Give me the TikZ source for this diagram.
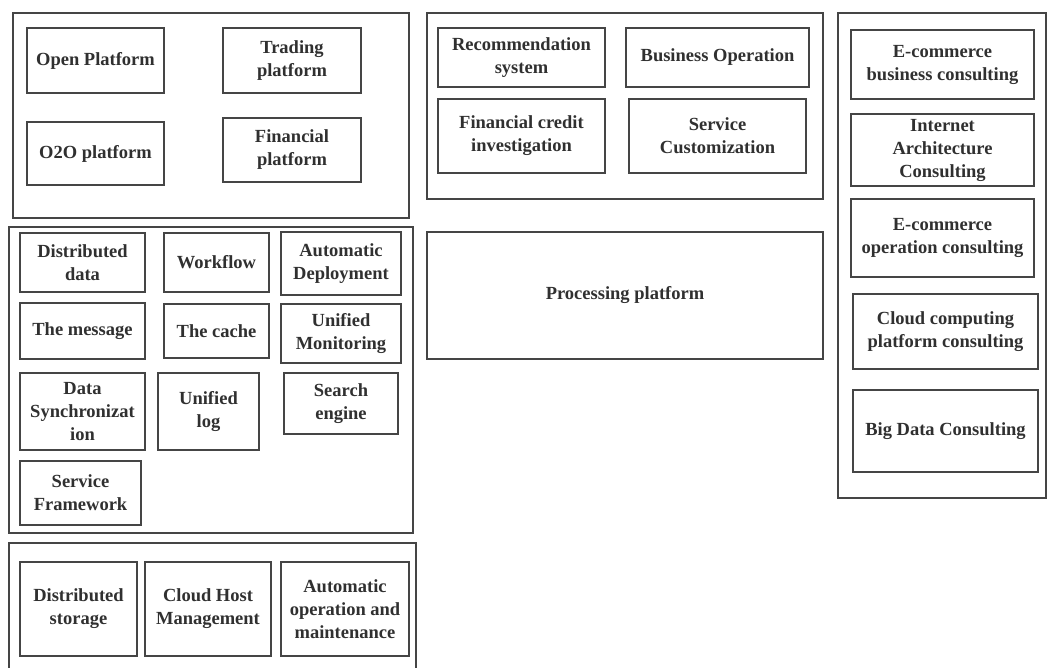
\documentclass[tikz,border=0pt]{standalone}
\usepackage{fontspec}
\setmainfont{Liberation Serif}
\definecolor{ln}{HTML}{454545}
\definecolor{tx}{HTML}{303030}
\newcommand\bx[6]{\node[bx,minimum width={(#4-#2)*1pt},minimum height={(#5-#3)*1pt}] (#1) at ({(#2+#4)/2},{(#3+#5)/2}) {#6};}
\begin{document}
\begin{tikzpicture}[x=1pt,y=-1pt,
  bx/.style={draw=ln,line width=1.3pt,rectangle,inner sep=0pt,align=center,text=tx,
    font=\fontsize{18.5}{23}\selectfont\bfseries}]
\useasboundingbox[fill=white] (0,0) rectangle (1048,668);
% group outlines
\bx{g1}{13}{13}{409}{218}{}
\bx{g2}{9}{227}{413}{533}{}
\bx{g3}{9}{543}{416}{680}{}
\bx{g4}{427}{13}{823}{199}{}
\bx{g5}{838}{13}{1046}{498}{}
% top-left group
\bx{op}{27}{28}{164}{93}{Open Platform}
\bx{tp}{223}{28}{361}{93}{Trading\\platform}
\bx{oo}{27}{122}{164}{185}{O2O platform}
\bx{fp}{223}{118}{361}{182}{Financial\\platform}
% middle-left group
\bx{dd}{20}{233}{145}{292}{Distributed\\data}
\bx{wf}{164}{233}{269}{292}{Workflow}
\bx{ad}{281}{232}{401}{295}{Automatic\\Deployment}
\bx{tm}{20}{303}{145}{359}{The message}
\bx{tc}{164}{304}{269}{358}{The cache}
\bx{um}{281}{304}{401}{363}{Unified\\Monitoring}
\bx{ds}{20}{373}{145}{450}{Data\\Synchronizat\\ion}
\bx{ul}{158}{373}{259}{450}{Unified\\log}
\bx{se}{284}{373}{398}{434}{Search\\engine}
\bx{sf}{20}{461}{141}{525}{Service\\Framework}
% bottom-left group
\bx{dst}{20}{562}{137}{656}{Distributed\\storage}
\bx{ch}{145}{562}{271}{656}{Cloud Host\\Management}
\bx{ao}{281}{562}{409}{656}{Automatic\\operation and\\maintenance}
% middle group
\bx{rs}{438}{28}{605}{87}{Recommendation\\system}
\bx{bo}{626}{28}{809}{87}{Business Operation}
\bx{fc}{438}{99}{605}{173}{Financial credit\\investigation}
\bx{sc}{629}{99}{806}{173}{Service\\Customization}
\bx{pp}{427}{232}{823}{359}{Processing platform}
% right group
\bx{eb}{851}{30}{1034}{99}{E-commerce\\business consulting}
\bx{ia}{851}{114}{1034}{186}{Internet\\Architecture\\Consulting}
\bx{eo}{851}{199}{1034}{277}{E-commerce\\operation consulting}
\bx{cc}{853}{294}{1038}{369}{Cloud computing\\platform consulting}
\bx{bd}{853}{390}{1038}{472}{Big Data Consulting}
\end{tikzpicture}
\end{document}
